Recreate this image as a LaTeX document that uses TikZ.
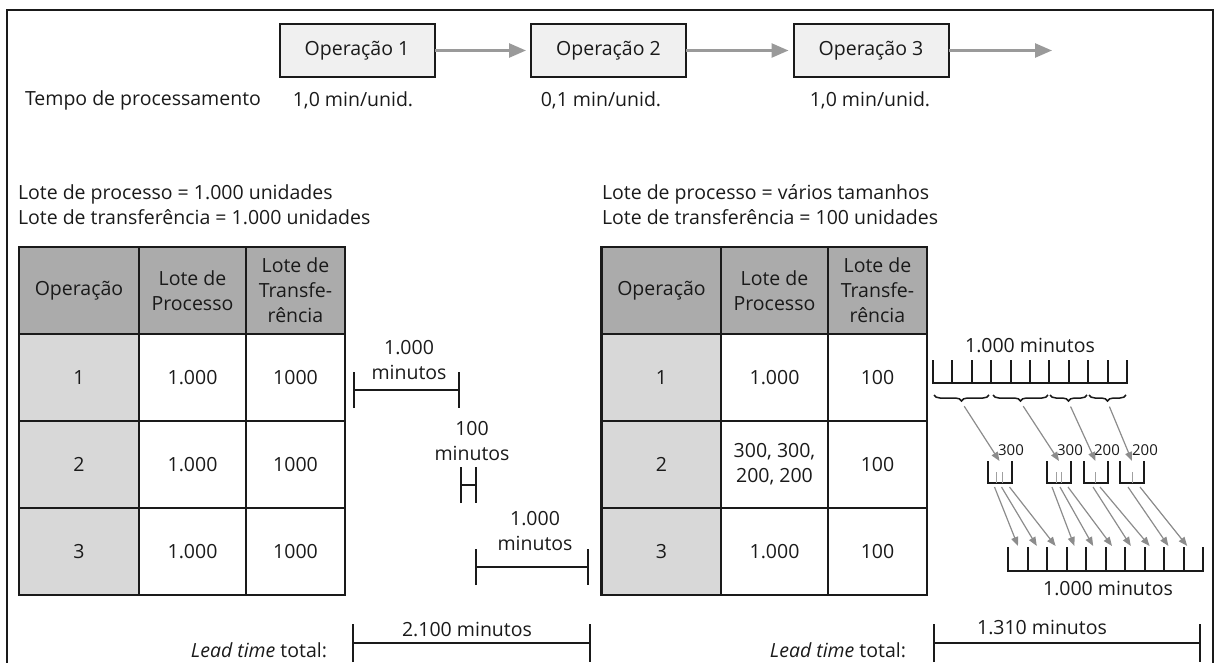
\documentclass[tikz,border=0pt]{standalone}
\usepackage{fontspec}
\setmainfont{Open Sans}
\usetikzlibrary{arrows.meta,decorations.pathreplacing,calc}

\definecolor{ink}{HTML}{1A1A1A}
\definecolor{headgray}{HTML}{ABABAB}
\definecolor{colgray}{HTML}{D8D8D8}
\definecolor{boxgray}{HTML}{F0F0F0}
\definecolor{flowgray}{HTML}{9A9A9A}
\definecolor{thingray}{HTML}{8C8C8C}
\definecolor{tickgray}{HTML}{A0A0A0}

\begin{document}
\begin{tikzpicture}[x=1pt,y=-1pt,
  every node/.style={font=\fontsize{19.5}{25}\selectfont, inner sep=0pt, outer sep=0pt, text=ink},
  small/.style={font=\fontsize{15}{18}\selectfont},
  opbox/.style={draw=ink, line width=2pt, fill=boxgray, minimum width=155pt, minimum height=53pt},
  flow/.style={draw=flowgray, line width=2.6pt, -{Triangle[length=17pt,width=14pt]}, shorten >=5pt},
  cell/.style={draw=ink, line width=2.2pt, align=center, minimum height=87pt},
  head/.style={cell, fill=headgray},
  opcol/.style={cell, fill=colgray},
  plain/.style={cell, fill=white},
  wa/.style={minimum width=120pt},
  wb/.style={minimum width=107pt},
  wc/.style={minimum width=99pt},
  span/.style={draw=ink, line width=2.2pt, arrows={Bar[width=36pt]-Bar[width=36pt]}},
  leadspan/.style={draw=ink, line width=2.2pt, arrows={Bar[width=38pt]-Bar[width=38pt]}},
  comb/.style={draw=ink, line width=2pt, line join=miter},
  bracket/.style={draw=ink, line width=1.5pt, decorate, decoration={brace, amplitude=6pt, mirror}},
  thin/.style={draw=thingray, line width=1.2pt, -{Triangle[length=9pt,width=7pt]}},
  bin/.style={minimum width=24pt, minimum height=22pt, draw=none},
  binline/.style={draw=ink, line width=2pt, line join=miter},
  subtick/.style={draw=tickgray, line width=0.8pt}]

\useasboundingbox (0,0) rectangle (1219,662);

% outer frame (open at the bottom)
\draw[ink, line width=2pt] (7,680) -- (7,10) -- (1213,10) -- (1213,680);

% ---------- flow of operations ----------
\node[opbox] (op1) at (357,50.5) {Operação 1};
\node[opbox] (op2) at (608.5,50.5) {Operação 2};
\node[opbox] (op3) at (871,50.5) {Operação 3};
\coordinate (out) at (1057,50.5);
\draw[flow] (op1) -- (op2);
\draw[flow] (op2) -- (op3);
\draw[flow] (op3) -- (out);

\node[anchor=west] (tempo) at (25,100) {Tempo de processamento};
\node (pt1) at (353,100) {1,0 min/unid.};
\node (pt2) at (601,100) {0,1 min/unid.};
\node (pt3) at (870,100) {1,0 min/unid.};

% ---------- batch sizes ----------
\node[anchor=west, align=left] (loteA) at (18,204.5)
  {Lote de processo = 1.000 unidades\\Lote de transferência = 1.000 unidades};
\node[anchor=west, align=left] (loteB) at (602,204.5)
  {Lote de processo = vários tamanhos\\Lote de transferência = 100 unidades};

% ---------- left table ----------
\node[head, wa] (a00) at (79,290.5)    {Operação};
\node[head, wb] (a01) at (192.5,290.5) {Lote de\\Processo};
\node[head, wc] (a02) at (295.5,290.5) {Lote de\\Transfe-\\rência};
\node[opcol, wa] (a10) at (79,377.5)   {1};
\node[plain, wb] (a11) at (192.5,377.5) {1.000};
\node[plain, wc] (a12) at (295.5,377.5) {1000};
\node[opcol, wa] (a20) at (79,464.5)   {2};
\node[plain, wb] (a21) at (192.5,464.5) {1.000};
\node[plain, wc] (a22) at (295.5,464.5) {1000};
\node[opcol, wa] (a30) at (79,551.5)   {3};
\node[plain, wb] (a31) at (192.5,551.5) {1.000};
\node[plain, wc] (a32) at (295.5,551.5) {1000};

% ---------- right table ----------
\node[head, wa] (b00) at (661.5,290.5) {Operação};
\node[head, wb] (b01) at (774.5,290.5) {Lote de\\Processo};
\node[head, wc] (b02) at (877.5,290.5) {Lote de\\Transfe-\\rência};
\node[opcol, wa] (b10) at (661.5,377.5) {1};
\node[plain, wb] (b11) at (774.5,377.5) {1.000};
\node[plain, wc] (b12) at (877.5,377.5) {100};
\node[opcol, wa] (b20) at (661.5,464.5) {2};
\node[plain, wb] (b21) at (774.5,464.5) {300, 300,\\200, 200};
\node[plain, wc] (b22) at (877.5,464.5) {100};
\node[opcol, wa] (b30) at (661.5,551.5) {3};
\node[plain, wb] (b31) at (774.5,551.5) {1.000};
\node[plain, wc] (b32) at (877.5,551.5) {100};

% ---------- sequential timing spans ----------
\coordinate (s1a) at (353,390);
\coordinate (s1b) at (460,390);
\draw[span] (s1a) -- (s1b);
\node[align=center] (l1) at (409,360) {1.000\\minutos};

\coordinate (s2a) at (460,485);
\coordinate (s2b) at (477,485);
\draw[span] (s2a) -- (s2b);
\node[align=center] (l2) at (472,441.5) {100\\minutos};

\coordinate (s3a) at (475,567);
\coordinate (s3b) at (589,567);
\draw[span] (s3a) -- (s3b);
\node[align=center] (l3) at (535,531.5) {1.000\\minutos};

% ---------- overlapped timing ----------
% first operation: ten transfer lots
\draw[comb] (933,360) -- (933,383) -- (1127,383) -- (1127,360);
\foreach \i in {1,...,9} \draw[comb] ({933+19.4*\i},360) -- ({933+19.4*\i},383);
\node (top) at (1030,345) {1.000 minutos};

% grouping of lots into process batches
\draw[bracket] (934,395) -- (989,395);
\draw[bracket] (993,395) -- (1048,395);
\draw[bracket] (1050,395) -- (1087,395);
\draw[bracket] (1089,395) -- (1126,395);
\coordinate (g1) at (961.5,402);
\coordinate (g2) at (1020.5,402);
\coordinate (g3) at (1068.5,402);
\coordinate (g4) at (1107.5,402);

% second operation: four process batches
\node[bin] (k1) at (999.5,472) {};
\node[bin] (k2) at (1059,472) {};
\node[bin] (k3) at (1095.5,472) {};
\node[bin] (k4) at (1132,472) {};
\foreach \k in {k1,k2,k3,k4}
  \draw[binline] (\k.north west) -- (\k.south west) -- (\k.south east) -- (\k.north east);
\foreach \k in {k1,k2}
  \foreach \f in {0.38,0.62}
    \draw[subtick] ($(\k.south west)!\f!(\k.south east)$) -- +(0,-11);
\foreach \k in {k3,k4}
  \draw[subtick] (\k.south) -- +(0,-11);

\node[small] (n1) at (1011,450) {300};
\node[small] (n2) at (1070,450) {300};
\node[small] (n3) at (1107,450) {200};
\node[small] (n4) at (1145,450) {200};

\draw[thin, shorten <=5pt] (g1) -- (k1.north);
\draw[thin, shorten <=5pt] (g2) -- (k2.north);
\draw[thin, shorten <=5pt] (g3) -- (k3.north);
\draw[thin, shorten <=5pt] (g4) -- (k4.north);

% third operation: ten transfer lots
\draw[comb] (1008,547) -- (1008,571) -- (1203,571) -- (1203,547);
\foreach \i in {1,...,9} \draw[comb] ({1008+19.5*\i},547) -- ({1008+19.5*\i},571);
\node (bot) at (1108,588) {1.000 minutos};
\foreach \j in {1,...,10} \coordinate (q\j) at ({1018+18.8*(\j-1)},546);

\draw[thin] ([xshift=-5pt,yshift=-4pt]k1.south) -- (q1);
\draw[thin] ([xshift=2pt,yshift=-4pt]k1.south) -- (q2);
\draw[thin] ([xshift=10pt,yshift=-4pt]k1.south) -- (q3);
\draw[thin] ([xshift=-7pt,yshift=-4pt]k2.south) -- (q4);
\draw[thin] ([xshift=1pt,yshift=-4pt]k2.south) -- (q5);
\draw[thin] ([xshift=9pt,yshift=-4pt]k2.south) -- (q6);
\draw[thin] ([xshift=-2.5pt,yshift=-4pt]k3.south) -- (q7);
\draw[thin] ([xshift=4.5pt,yshift=-4pt]k3.south) -- (q8);
\draw[thin] ([xshift=-4pt,yshift=-4pt]k4.south) -- (q9);
\draw[thin] ([xshift=8pt,yshift=-4pt]k4.south) -- (q10);

% ---------- total lead times ----------
\node[anchor=base east] (leadA) at (327,657) {\textit{Lead time} total:};
\coordinate (ta) at (352,643);
\coordinate (tb) at (591,643);
\draw[leadspan] (ta) -- (tb);
\node (totA) at (467,629) {2.100 minutos};

\node[anchor=base east] (leadB) at (906,657) {\textit{Lead time} total:};
\coordinate (tc) at (933,643);
\coordinate (td) at (1201,643);
\draw[leadspan] (tc) -- (td);
\node (totB) at (1042,627) {1.310 minutos};

\end{tikzpicture}
\end{document}
